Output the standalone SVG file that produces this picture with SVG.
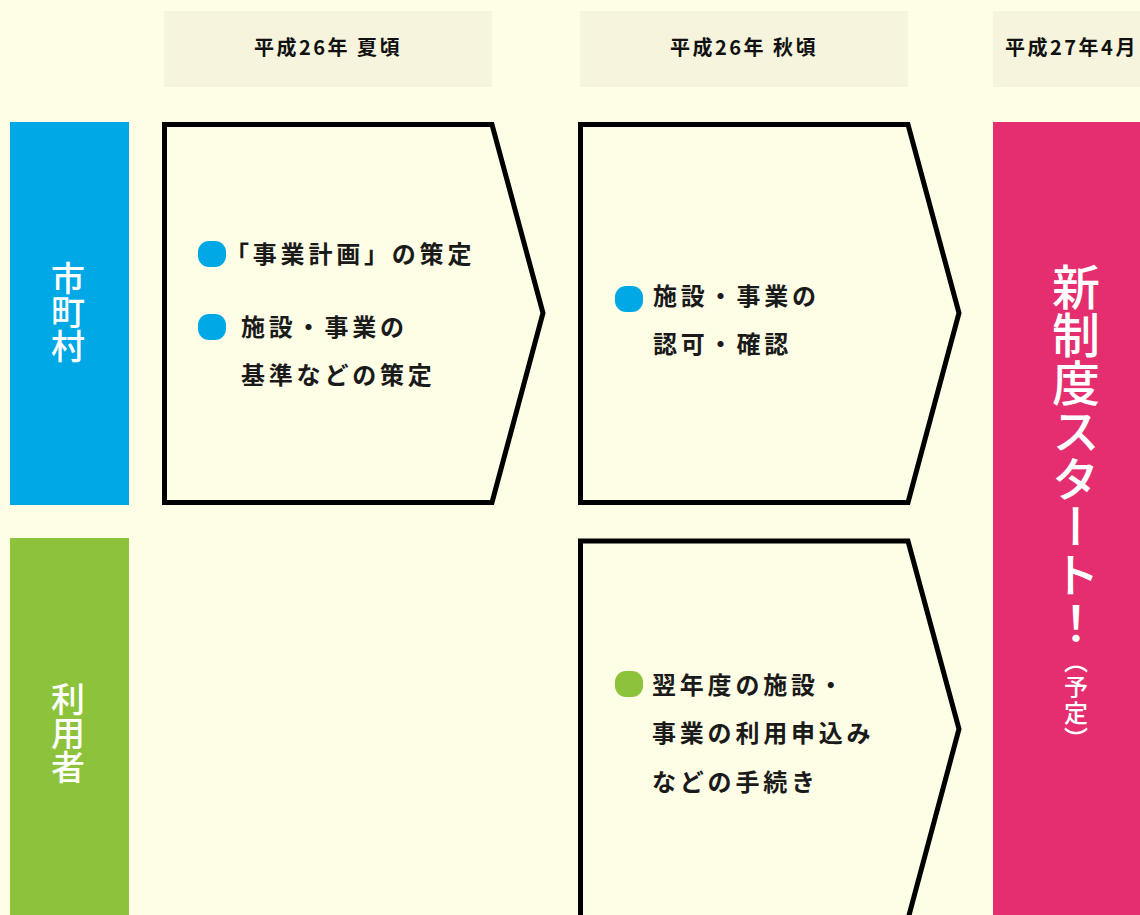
<svg xmlns="http://www.w3.org/2000/svg" width="1140" height="915" viewBox="0 0 1140 915">
<style>
.hdr{fill:#f6f4dc}
.hdrt{font-family:"Noto Sans CJK JP","Noto Sans",sans-serif;font-size:20px;font-weight:700;fill:#111;letter-spacing:2.5px}
.arrow{fill:none;stroke:#000;stroke-width:5;stroke-linejoin:miter}
.body{font-family:"Noto Sans CJK JP","Noto Sans",sans-serif;font-size:24px;font-weight:700;fill:#1a1a1a;letter-spacing:3.8px}
.vlab{font-family:"Noto Sans CJK JP","Noto Sans",sans-serif;font-size:34px;font-weight:500;fill:#fff;writing-mode:vertical-rl}
.vbig{font-family:"Noto Sans CJK JP","Noto Sans",sans-serif;font-size:48px;font-weight:500;fill:#fff;writing-mode:vertical-rl}
.vsmall{font-family:"Noto Sans CJK JP","Noto Sans",sans-serif;font-size:24px;font-weight:500;fill:#fff;writing-mode:vertical-rl;letter-spacing:2px}
.blue{fill:#00a8e6}
.green{fill:#8dc33a}
</style>
<rect x="0" y="0" width="1140" height="915" fill="#fefde6"/>
<g id="header-1"><rect class="hdr" x="164" y="11" width="328" height="76"/><text class="hdrt" x="328" y="55" text-anchor="middle">平成26年 夏頃</text></g>
<g id="header-2"><rect class="hdr" x="580" y="11" width="328" height="76"/><text class="hdrt" x="744" y="55" text-anchor="middle">平成26年 秋頃</text></g>
<g id="header-3"><rect class="hdr" x="993" y="11" width="160" height="76"/><text class="hdrt" x="1005" y="55">平成27年4月</text></g>
<g id="row-municipality"><rect class="blue" x="10" y="122" width="119" height="383"/><text class="vlab" x="68" y="261">市町村</text></g>
<g id="row-user"><rect class="green" x="10" y="538" width="119" height="377"/><text class="vlab" x="68" y="682">利用者</text></g>
<g id="step-summer">
<polygon class="arrow" points="164.5,124.5 492,124.5 543,313 492,502.5 164.5,502.5"/>
<rect class="blue" x="198" y="241" width="28" height="26" rx="11"/>
<text class="body" x="225" y="263">「事業計画」の策定</text>
<rect class="blue" x="198" y="314" width="28" height="26" rx="11"/>
<text class="body" x="241" y="336">施設・事業の</text>
<text class="body" x="241" y="384">基準などの策定</text>
</g>
<g id="step-autumn-municipality">
<polygon class="arrow" points="580.5,124.5 908,124.5 959,313 908,502.5 580.5,502.5"/>
<rect class="blue" x="615" y="286" width="28" height="26" rx="11"/>
<text class="body" x="653" y="305">施設・事業の</text>
<text class="body" x="653" y="353">認可・確認</text>
</g>
<g id="step-autumn-user">
<polygon class="arrow" points="580.5,541 908,541 959,729 908,919 580.5,919"/>
<rect class="green" x="615" y="671" width="28" height="26" rx="11"/>
<text class="body" x="652" y="694">翌年度の施設・</text>
<text class="body" x="652" y="742">事業の利用申込み</text>
<text class="body" x="652" y="791">などの手続き</text>
</g>
<g id="new-system-start">
<rect x="993" y="122" width="147" height="793" fill="#e52e6f"/>
<text class="vbig" x="1076" y="263">新制度スタート！</text>
<text class="vsmall" x="1076" y="649">（予定）</text>
</g>
<g id="connectors"/>
</svg>
